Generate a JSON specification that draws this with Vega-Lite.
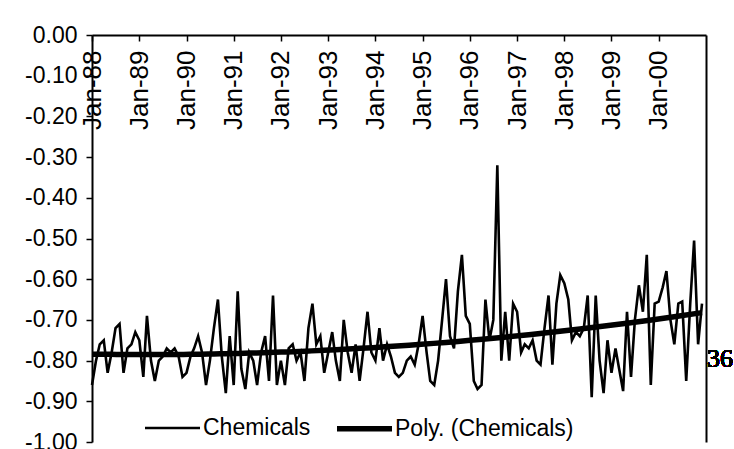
{
  "$schema": "https://vega.github.io/schema/vega-lite/v6.json",
  "width": 614,
  "height": 407,
  "autosize": "none",
  "padding": {"left": 92, "top": 35, "right": 28, "bottom": 7},
  "background": "white",
  "config": {"font": "Liberation Sans", "view": {"stroke": null}},
  "data": {
    "format": {"parse": {"date": "date"}},
    "values": [
      {"date": "1988-01-01", "value": -0.86}, {"date": "1988-02-01", "value": -0.80}, {"date": "1988-03-01", "value": -0.76}, {"date": "1988-04-01", "value": -0.75}, {"date": "1988-05-01", "value": -0.83}, {"date": "1988-06-01", "value": -0.78}, {"date": "1988-07-01", "value": -0.72}, {"date": "1988-08-01", "value": -0.71}, {"date": "1988-09-01", "value": -0.83}, {"date": "1988-10-01", "value": -0.77}, {"date": "1988-11-01", "value": -0.76}, {"date": "1988-12-01", "value": -0.73},
      {"date": "1989-01-01", "value": -0.75}, {"date": "1989-02-01", "value": -0.84}, {"date": "1989-03-01", "value": -0.69}, {"date": "1989-04-01", "value": -0.80}, {"date": "1989-05-01", "value": -0.85}, {"date": "1989-06-01", "value": -0.80}, {"date": "1989-07-01", "value": -0.79}, {"date": "1989-08-01", "value": -0.77}, {"date": "1989-09-01", "value": -0.78}, {"date": "1989-10-01", "value": -0.77}, {"date": "1989-11-01", "value": -0.79}, {"date": "1989-12-01", "value": -0.84},
      {"date": "1990-01-01", "value": -0.83}, {"date": "1990-02-01", "value": -0.79}, {"date": "1990-03-01", "value": -0.77}, {"date": "1990-04-01", "value": -0.74}, {"date": "1990-05-01", "value": -0.78}, {"date": "1990-06-01", "value": -0.86}, {"date": "1990-07-01", "value": -0.80}, {"date": "1990-08-01", "value": -0.72}, {"date": "1990-09-01", "value": -0.65}, {"date": "1990-10-01", "value": -0.79}, {"date": "1990-11-01", "value": -0.88}, {"date": "1990-12-01", "value": -0.74},
      {"date": "1991-01-01", "value": -0.86}, {"date": "1991-02-01", "value": -0.63}, {"date": "1991-03-01", "value": -0.82}, {"date": "1991-04-01", "value": -0.87}, {"date": "1991-05-01", "value": -0.78}, {"date": "1991-06-01", "value": -0.80}, {"date": "1991-07-01", "value": -0.86}, {"date": "1991-08-01", "value": -0.78}, {"date": "1991-09-01", "value": -0.74}, {"date": "1991-10-01", "value": -0.85}, {"date": "1991-11-01", "value": -0.64}, {"date": "1991-12-01", "value": -0.86},
      {"date": "1992-01-01", "value": -0.80}, {"date": "1992-02-01", "value": -0.86}, {"date": "1992-03-01", "value": -0.77}, {"date": "1992-04-01", "value": -0.76}, {"date": "1992-05-01", "value": -0.80}, {"date": "1992-06-01", "value": -0.78}, {"date": "1992-07-01", "value": -0.85}, {"date": "1992-08-01", "value": -0.72}, {"date": "1992-09-01", "value": -0.66}, {"date": "1992-10-01", "value": -0.76}, {"date": "1992-11-01", "value": -0.74}, {"date": "1992-12-01", "value": -0.83},
      {"date": "1993-01-01", "value": -0.78}, {"date": "1993-02-01", "value": -0.73}, {"date": "1993-03-01", "value": -0.80}, {"date": "1993-04-01", "value": -0.85}, {"date": "1993-05-01", "value": -0.70}, {"date": "1993-06-01", "value": -0.78}, {"date": "1993-07-01", "value": -0.83}, {"date": "1993-08-01", "value": -0.76}, {"date": "1993-09-01", "value": -0.85}, {"date": "1993-10-01", "value": -0.77}, {"date": "1993-11-01", "value": -0.68}, {"date": "1993-12-01", "value": -0.78},
      {"date": "1994-01-01", "value": -0.80}, {"date": "1994-02-01", "value": -0.72}, {"date": "1994-03-01", "value": -0.80}, {"date": "1994-04-01", "value": -0.76}, {"date": "1994-05-01", "value": -0.79}, {"date": "1994-06-01", "value": -0.83}, {"date": "1994-07-01", "value": -0.84}, {"date": "1994-08-01", "value": -0.83}, {"date": "1994-09-01", "value": -0.80}, {"date": "1994-10-01", "value": -0.79}, {"date": "1994-11-01", "value": -0.81}, {"date": "1994-12-01", "value": -0.76},
      {"date": "1995-01-01", "value": -0.69}, {"date": "1995-02-01", "value": -0.78}, {"date": "1995-03-01", "value": -0.85}, {"date": "1995-04-01", "value": -0.86}, {"date": "1995-05-01", "value": -0.80}, {"date": "1995-06-01", "value": -0.70}, {"date": "1995-07-01", "value": -0.60}, {"date": "1995-08-01", "value": -0.74}, {"date": "1995-09-01", "value": -0.77}, {"date": "1995-10-01", "value": -0.63}, {"date": "1995-11-01", "value": -0.54}, {"date": "1995-12-01", "value": -0.69},
      {"date": "1996-01-01", "value": -0.71}, {"date": "1996-02-01", "value": -0.85}, {"date": "1996-03-01", "value": -0.87}, {"date": "1996-04-01", "value": -0.86}, {"date": "1996-05-01", "value": -0.65}, {"date": "1996-06-01", "value": -0.75}, {"date": "1996-07-01", "value": -0.70}, {"date": "1996-08-01", "value": -0.32}, {"date": "1996-09-01", "value": -0.80}, {"date": "1996-10-01", "value": -0.68}, {"date": "1996-11-01", "value": -0.80}, {"date": "1996-12-01", "value": -0.66},
      {"date": "1997-01-01", "value": -0.68}, {"date": "1997-02-01", "value": -0.78}, {"date": "1997-03-01", "value": -0.76}, {"date": "1997-04-01", "value": -0.77}, {"date": "1997-05-01", "value": -0.75}, {"date": "1997-06-01", "value": -0.80}, {"date": "1997-07-01", "value": -0.81}, {"date": "1997-08-01", "value": -0.72}, {"date": "1997-09-01", "value": -0.64}, {"date": "1997-10-01", "value": -0.81}, {"date": "1997-11-01", "value": -0.66}, {"date": "1997-12-01", "value": -0.59},
      {"date": "1998-01-01", "value": -0.61}, {"date": "1998-02-01", "value": -0.65}, {"date": "1998-03-01", "value": -0.75}, {"date": "1998-04-01", "value": -0.73}, {"date": "1998-05-01", "value": -0.74}, {"date": "1998-06-01", "value": -0.72}, {"date": "1998-07-01", "value": -0.64}, {"date": "1998-08-01", "value": -0.89}, {"date": "1998-09-01", "value": -0.64}, {"date": "1998-10-01", "value": -0.80}, {"date": "1998-11-01", "value": -0.88}, {"date": "1998-12-01", "value": -0.75},
      {"date": "1999-01-01", "value": -0.83}, {"date": "1999-02-01", "value": -0.77}, {"date": "1999-03-01", "value": -0.82}, {"date": "1999-04-01", "value": -0.875}, {"date": "1999-05-01", "value": -0.68}, {"date": "1999-06-01", "value": -0.84}, {"date": "1999-07-01", "value": -0.70}, {"date": "1999-08-01", "value": -0.615}, {"date": "1999-09-01", "value": -0.68}, {"date": "1999-10-01", "value": -0.54}, {"date": "1999-11-01", "value": -0.86}, {"date": "1999-12-01", "value": -0.66},
      {"date": "2000-01-01", "value": -0.655}, {"date": "2000-02-01", "value": -0.62}, {"date": "2000-03-01", "value": -0.58}, {"date": "2000-04-01", "value": -0.70}, {"date": "2000-05-01", "value": -0.76}, {"date": "2000-06-01", "value": -0.66}, {"date": "2000-07-01", "value": -0.655}, {"date": "2000-08-01", "value": -0.85}, {"date": "2000-09-01", "value": -0.66}, {"date": "2000-10-01", "value": -0.505}, {"date": "2000-11-01", "value": -0.76}, {"date": "2000-12-01", "value": -0.66}
    ]
  },
  "layer": [
    {
      "mark": {"type": "line", "color": "black", "strokeJoin": "miter"},
      "encoding": {
        "x": {
          "field": "date",
          "type": "temporal",
          "scale": {"type": "utc", "domain": [{"year": 1988, "month": 1, "date": 1, "utc": true}, {"year": 2001, "month": 1, "date": 1, "utc": true}]},
          "axis": {
            "orient": "bottom",
            "offset": -407,
            "title": null,
            "grid": false,
            "labelExpr": "utcFormat(datum.value, '%b-%y')",
            "values": [
              {"year": 1988, "month": 1, "date": 1, "utc": true}, {"year": 1989, "month": 1, "date": 1, "utc": true}, {"year": 1990, "month": 1, "date": 1, "utc": true}, {"year": 1991, "month": 1, "date": 1, "utc": true}, {"year": 1992, "month": 1, "date": 1, "utc": true}, {"year": 1993, "month": 1, "date": 1, "utc": true}, {"year": 1994, "month": 1, "date": 1, "utc": true}, {"year": 1995, "month": 1, "date": 1, "utc": true}, {"year": 1996, "month": 1, "date": 1, "utc": true}, {"year": 1997, "month": 1, "date": 1, "utc": true}, {"year": 1998, "month": 1, "date": 1, "utc": true}, {"year": 1999, "month": 1, "date": 1, "utc": true}, {"year": 2000, "month": 1, "date": 1, "utc": true}
            ],
            "labelAngle": 270,
            "labelAlign": "right",
            "labelBaseline": "middle",
            "labelFontSize": 26,
            "labelColor": "black",
            "labelPadding": 9,
            "labelOverlap": false,
            "labelFlush": false,
            "labelBound": false,
            "tickSize": 6,
            "tickColor": "black",
            "tickWidth": 1.5,
            "domainColor": "black",
            "domainWidth": 2
          }
        },
        "y": {
          "field": "value",
          "type": "quantitative",
          "scale": {"domain": [-1, 0], "nice": false, "zero": false},
          "axis": {
            "orient": "left",
            "title": null,
            "grid": false,
            "values": [0, -0.1, -0.2, -0.3, -0.4, -0.5, -0.6, -0.7, -0.8, -0.9, -1.0],
            "labelExpr": "replace(format(datum.value, '.2f'), '\u2212', '-')",
            "labelFontSize": 23,
            "labelColor": "black",
            "labelPadding": 9,
            "tickSize": 6,
            "tickColor": "black",
            "tickWidth": 1.5,
            "domainColor": "black",
            "domainWidth": 2
          }
        },
        "strokeWidth": {
          "datum": "Chemicals",
          "type": "ordinal",
          "scale": {"domain": ["Chemicals", "Poly. (Chemicals)"], "range": [2.6, 5.5]},
          "legend": {
            "title": null,
            "orient": "none",
            "legendX": 50,
            "legendY": 363,
            "direction": "horizontal",
            "columns": 2,
            "symbolType": "stroke",
            "symbolSize": 3025,
            "symbolStrokeColor": "black",
            "labelFontSize": 23,
            "labelColor": "black",
            "labelOffset": 0,
            "labelLimit": 400,
            "columnPadding": 15
          }
        }
      }
    },
    {
      "transform": [{"regression": "value", "on": "date", "method": "poly", "order": 2}],
      "mark": {"type": "line", "color": "black"},
      "encoding": {
        "x": {"field": "date", "type": "temporal", "axis": null},
        "y": {
          "field": "value",
          "type": "quantitative",
          "axis": {"orient": "right", "title": null, "labels": false, "ticks": false, "grid": false, "domainColor": "black", "domainWidth": 2}
        },
        "strokeWidth": {"datum": "Poly. (Chemicals)", "type": "ordinal"}
      }
    },
    {
      "mark": {"type": "text", "font": "Liberation Serif", "fontSize": 26, "align": "left", "baseline": "middle", "dx": 1, "color": "black"},
      "encoding": {
        "x": {"datum": {"year": 2001, "month": 1, "date": 1, "utc": true}, "type": "temporal", "axis": null},
        "y": {"datum": -0.797, "type": "quantitative", "axis": null},
        "text": {"value": "36"}
      }
    }
  ],
  "resolve": {"axis": {"x": "independent", "y": "independent"}}
}
